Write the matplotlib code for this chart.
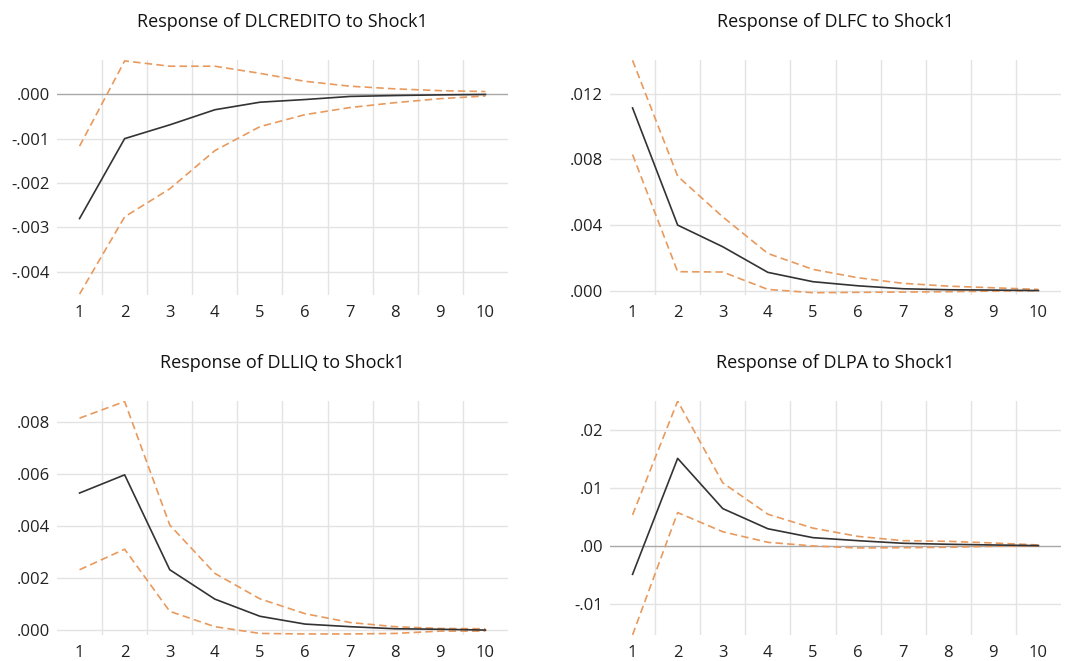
import matplotlib
matplotlib.use("Agg")
import matplotlib.pyplot as plt
from matplotlib.ticker import FuncFormatter

plt.rcParams['font.family'] = ['Open Sans', 'DejaVu Sans']

periods = [1, 2, 3, 4, 5, 6, 7, 8, 9, 10]

# DLCREDITO
credito_mean = [-0.00280, -0.00100, -0.00069, -0.00035, -0.00018, -0.00012, -0.00005, -0.00003, -0.000015, -0.000005]
credito_up = [-0.00117, 0.00075, 0.00063, 0.00063, 0.00047, 0.00029, 0.00018, 0.00012, 0.00008, 0.00006]
credito_lo = [-0.00450, -0.00276, -0.00213, -0.00127, -0.00073, -0.00046, -0.00030, -0.00019, -0.00010, -0.00004]

# DLFC
fc_mean = [0.01114, 0.00400, 0.00268, 0.00112, 0.00055, 0.00030, 0.00012, 0.00006, 0.00004, 0.00001]
fc_up = [0.01404, 0.00698, 0.00450, 0.00227, 0.00130, 0.00079, 0.00045, 0.00028, 0.00018, 0.00008]
fc_lo = [0.00830, 0.00116, 0.00114, 0.00008, -0.00012, -0.00010, -0.00008, -0.00006, -0.00002, 0.00000]

# DLLIQ
liq_mean = [0.00527, 0.00597, 0.00232, 0.00119, 0.00053, 0.00023, 0.00013, 0.00005, 0.00003, 0.00000]
liq_up = [0.00815, 0.00879, 0.00404, 0.00218, 0.00120, 0.00063, 0.00029, 0.00013, 0.00006, 0.00005]
liq_lo = [0.00232, 0.00311, 0.00072, 0.00013, -0.00013, -0.00015, -0.00015, -0.00013, -0.00004, -0.00004]

# DLPA
pa_mean = [-0.00490, 0.01512, 0.00645, 0.00297, 0.00143, 0.00091, 0.00046, 0.00029, 0.00017, 0.00006]
pa_up = [0.00536, 0.02500, 0.01090, 0.00548, 0.00308, 0.00165, 0.00091, 0.00080, 0.00051, 0.00017]
pa_lo = [-0.01535, 0.00576, 0.00245, 0.00063, 0.00000, -0.00034, -0.00030, -0.00023, -0.00006, 0.00000]

panels = [
    ("Response of DLCREDITO to Shock1", credito_mean, credito_up, credito_lo,
     [0.000, -0.001, -0.002, -0.003, -0.004], 3, True, (-0.00452, 0.00077)),
    ("Response of DLFC to Shock1", fc_mean, fc_up, fc_lo,
     [0.000, 0.004, 0.008, 0.012], 3, False, (-0.00026, 0.01406)),
    ("Response of DLLIQ to Shock1", liq_mean, liq_up, liq_lo,
     [0.000, 0.002, 0.004, 0.006, 0.008], 3, False, (-0.00019, 0.00881)),
    ("Response of DLPA to Shock1", pa_mean, pa_up, pa_lo,
     [-0.01, 0.00, 0.01, 0.02], 2, True, (-0.01537, 0.02502)),
]

W, H = 1086, 661
fig = plt.figure(figsize=(W / 100, H / 100), dpi=100)

boxes = [
    (57, 60, 451, 235),
    (610, 60, 451, 235),
    (57, 401, 451, 234),
    (610, 401, 451, 234),
]

grid_col = "#e3e3e3"
band_col = "#e89a5e"
mean_col = "#333333"


def make_fmt(dec):
    def f(v, pos):
        s = f"{v:.{dec}f}"
        if s.startswith("-0"):
            s = "-" + s[2:]
        elif s.startswith("0"):
            s = s[1:]
        return s
    return f


for (title, m, up, lo, yt, dec, zero_line, ylim), (l, t, w, h) in zip(panels, boxes):
    ax = fig.add_axes([l / W, 1 - (t + h) / H, w / W, h / H])
    ax.set_xlim(0.5, 10.5)
    ax.set_ylim(*ylim)
    for xv in [p + 0.5 for p in periods[:-1]]:
        ax.axvline(xv, color=grid_col, lw=1.0, zorder=0)
    for yv in yt:
        if zero_line and abs(yv) < 1e-12:
            ax.axhline(yv, color="#a8a8a8", lw=1.0, zorder=1)
        else:
            ax.axhline(yv, color=grid_col, lw=1.0, zorder=0)
    ax.plot(periods, up, color=band_col, lw=1.2, ls=(0, (4.5, 2.5)), zorder=2)
    ax.plot(periods, lo, color=band_col, lw=1.2, ls=(0, (4.5, 2.5)), zorder=2)
    ax.plot(periods, m, color=mean_col, lw=1.2, zorder=3)
    ax.set_xticks(periods)
    ax.set_yticks(yt)
    ax.yaxis.set_major_formatter(FuncFormatter(make_fmt(dec)))
    ax.tick_params(length=0, labelsize=12, colors="#222222")
    ax.tick_params(axis='x', pad=7)
    ax.tick_params(axis='y', pad=5)
    for s in ax.spines.values():
        s.set_visible(False)
    ax.set_title(title, fontsize=13, color="#111111", pad=24)

fig.savefig("out.png", dpi=100)
